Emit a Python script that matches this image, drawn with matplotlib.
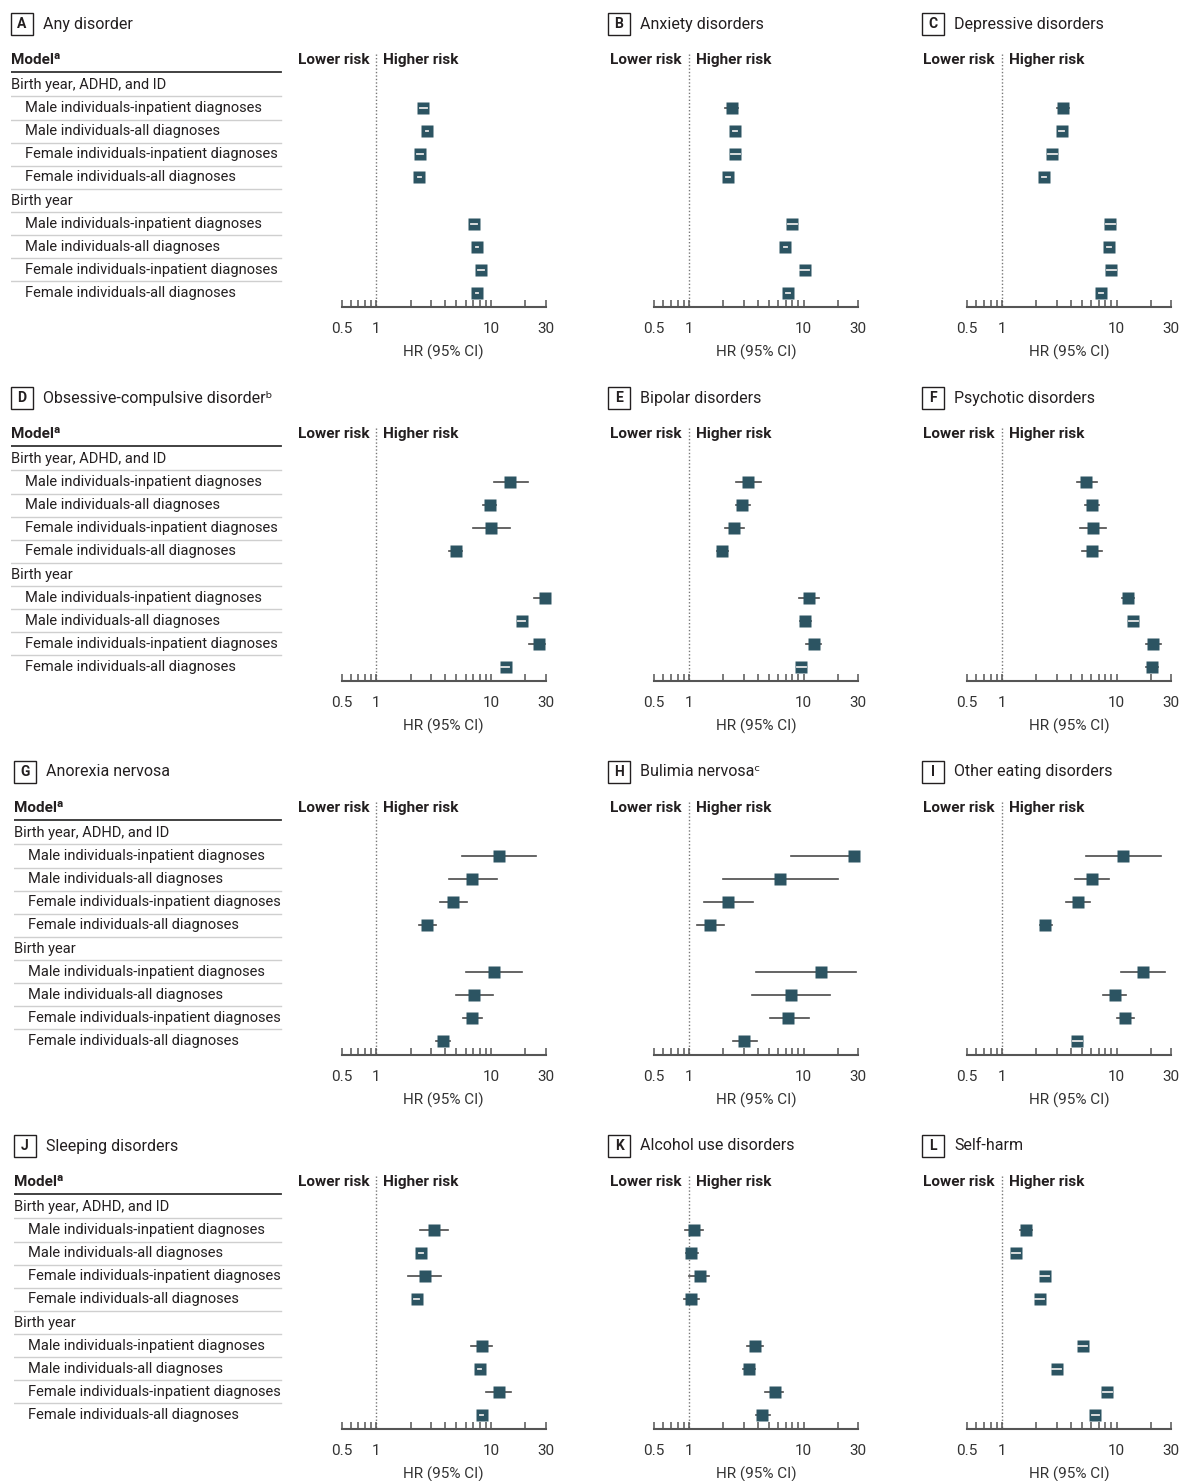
import matplotlib
matplotlib.use('Agg')
import matplotlib.pyplot as plt
from matplotlib.patches import Rectangle

plt.rcParams['font.family'] = ['Roboto', 'DejaVu Sans']

W, H = 1182, 1481

# panel headings, read row by row (3 panels per row)
letters = ['A', 'B', 'C', 'D', 'E', 'F', 'G', 'H', 'I', 'J', 'K', 'L']
titles = ['Any disorder', 'Anxiety disorders', 'Depressive disorders',
          'Obsessive-compulsive disorder\u1d47', 'Bipolar disorders', 'Psychotic disorders',
          'Anorexia nervosa', 'Bulimia nervosa\u1d9c', 'Other eating disorders',
          'Sleeping disorders', 'Alcohol use disorders', 'Self-harm']

row_labels = ['Birth year, ADHD, and ID',
              'Male individuals-inpatient diagnoses',
              'Male individuals-all diagnoses',
              'Female individuals-inpatient diagnoses',
              'Female individuals-all diagnoses',
              'Birth year',
              'Male individuals-inpatient diagnoses',
              'Male individuals-all diagnoses',
              'Female individuals-inpatient diagnoses',
              'Female individuals-all diagnoses']
group_rows = [0, 5]
est_rows = [1, 2, 3, 4, 6, 7, 8, 9]

# hazard ratios and 95% CI per panel
hr_a = [2.58, 2.79, 2.42, 2.38, 7.08, 7.62, 8.25, 7.62]
lo_a = [2.41, 2.73, 2.28, 2.31, 6.68, 7.47, 7.78, 7.47]
hi_a = [2.76, 2.85, 2.57, 2.45, 7.50, 7.77, 8.75, 7.77]

hr_b = [2.39, 2.54, 2.54, 2.21, 7.98, 6.94, 10.2, 7.37]
lo_b = [2.08, 2.44, 2.31, 2.12, 7.25, 6.70, 9.30, 7.10]
hi_b = [2.70, 2.65, 2.79, 2.30, 8.75, 7.20, 11.1, 7.65]

hr_c = [3.44, 3.33, 2.76, 2.35, 8.83, 8.65, 9.01, 7.37]
lo_c = [3.04, 3.17, 2.53, 2.26, 8.10, 8.30, 8.25, 7.07]
hi_c = [3.88, 3.50, 3.01, 2.44, 9.60, 9.00, 9.80, 7.68]

hr_d = [14.8, 9.73, 10.1, 4.95, 29.4, 18.5, 26.1, 13.4]
lo_d = [10.6, 8.51, 7.01, 4.27, 23.9, 17.2, 21.4, 12.2]
hi_d = [21.0, 11.1, 14.8, 5.62, 31.0, 19.9, 29.8, 14.5]

hr_e = [3.31, 2.92, 2.49, 1.95, 11.2, 10.3, 12.4, 9.55]
lo_e = [2.59, 2.59, 2.07, 1.77, 9.17, 9.30, 10.6, 8.75]
hi_e = [4.27, 3.38, 3.02, 2.20, 13.5, 11.7, 14.3, 10.4]

hr_f = [5.45, 6.14, 6.27, 6.14, 12.6, 14.0, 20.8, 20.4]
lo_f = [4.52, 5.31, 4.83, 5.03, 11.2, 12.8, 18.2, 18.2]
hi_f = [6.70, 7.07, 8.13, 7.41, 14.3, 15.3, 24.5, 23.2]

hr_g = [11.8, 6.89, 4.70, 2.77, 10.7, 7.17, 6.89, 3.82]
lo_g = [5.60, 4.29, 3.60, 2.35, 6.11, 4.93, 5.75, 3.34]
hi_g = [24.7, 11.2, 6.15, 3.30, 18.8, 10.4, 8.41, 4.43]

hr_h = [27.7, 6.22, 2.20, 1.53, 14.3, 7.80, 7.35, 3.02]
lo_h = [7.70, 1.99, 1.36, 1.17, 3.84, 3.52, 5.05, 2.45]
hi_h = [30.5, 19.8, 3.64, 2.01, 28.8, 16.9, 11.2, 3.89]

hr_i = [11.4, 6.14, 4.64, 2.40, 17.1, 9.73, 11.9, 4.55]
lo_i = [5.41, 4.37, 3.63, 2.14, 10.9, 7.66, 10.1, 4.15]
hi_i = [24.3, 8.58, 5.90, 2.72, 26.7, 12.2, 14.1, 5.00]

hr_j = [3.16, 2.48, 2.64, 2.25, 8.29, 7.97, 11.7, 8.29]
lo_j = [2.39, 2.38, 1.91, 2.15, 6.74, 7.70, 9.11, 8.01]
hi_j = [4.24, 2.58, 3.69, 2.35, 10.3, 8.25, 14.9, 8.58]

hr_k = [1.12, 1.04, 1.24, 1.05, 3.80, 3.32, 5.59, 4.37]
lo_k = [0.935, 0.95, 1.01, 0.908, 3.22, 2.99, 4.64, 3.85]
hi_k = [1.32, 1.19, 1.51, 1.23, 4.44, 3.78, 6.64, 5.11]

hr_l = [1.62, 1.33, 2.37, 2.13, 5.05, 3.00, 8.30, 6.55]
lo_l = [1.44, 1.22, 2.16, 1.95, 4.60, 2.76, 7.60, 6.05]
hi_l = [1.84, 1.45, 2.60, 2.33, 5.55, 3.26, 9.05, 7.10]

hrs = [hr_a, hr_b, hr_c, hr_d, hr_e, hr_f, hr_g, hr_h, hr_i, hr_j, hr_k, hr_l]
los = [lo_a, lo_b, lo_c, lo_d, lo_e, lo_f, lo_g, lo_h, lo_i, lo_j, lo_k, lo_l]
his = [hi_a, hi_b, hi_c, hi_d, hi_e, hi_f, hi_g, hi_h, hi_i, hi_j, hi_k, hi_l]

x_major = [0.5, 1, 10, 30]
x_major_labels = ['0.5', '1', '10', '30']
x_minor = [0.6, 0.7, 0.8, 0.9, 2, 3, 4, 5, 6, 7, 8, 9, 20]

TXT = '#231f20'
MARK = '#2c5462'
CI = '#4a4a4a'
FS = 10.5


def fig_rect(x0, y0, x1, y1):
    # pixel box (top-left origin) -> figure fraction
    return [x0 / W, 1 - y1 / H, (x1 - x0) / W, (y1 - y0) / H]


fig = plt.figure(figsize=(W / 100, H / 100), dpi=100)

col_x0 = [341.7, 654.3, 967.3]
box_x0 = [11, 608, 922]
ylim = (9.603, -1.724)
ROW_STEP = 374
inside = 1.115  # CI that fits inside the square marker is drawn in white

for p in range(12):
    r, c = divmod(p, 3)
    top = 45 + ROW_STEP * r
    bot = 307 + ROW_STEP * r

    # panel letter box and title
    bx = box_x0[c] + (3 if (c == 0 and r >= 2) else 0)
    by = 13 + ROW_STEP * r
    fig.add_artist(Rectangle((bx / W, 1 - (by + 22) / H), 22 / W, 22 / H,
                             transform=fig.transFigure, fill=False,
                             edgecolor=TXT, linewidth=1))
    fig.text((bx + 11) / W, 1 - (by + 11) / H, letters[p], ha='center', va='center',
             fontsize=10, fontweight='bold', color=TXT)
    fig.text((bx + 32) / W, 1 - (by + 11) / H, titles[p], ha='left', va='center',
             fontsize=11.5, color=TXT)

    # model table on the left column
    if c == 0:
        tx0 = bx
        tab = fig.add_axes(fig_rect(tx0, top, 283, bot))
        tab.set_xlim(0, 283 - tx0)
        tab.set_ylim(*ylim)
        tab.axis('off')
        tw = 283 - tx0 - 2
        tab.text(0, -1.078, 'Model\u1d43', fontsize=11, fontweight='bold',
                 color=TXT, va='center', ha='left')
        tab.plot([0, tw], [-0.54, -0.54], color='#333333', lw=1.3)
        for i, lab in enumerate(row_labels):
            indent = 0 if i in group_rows else 14
            tab.text(indent, i, lab, fontsize=FS, color=TXT, va='center', ha='left')
            if i < len(row_labels) - 1:
                tab.plot([0, tw], [i + 0.5, i + 0.5], color='#cfcfcf', lw=1)

    ax = fig.add_axes(fig_rect(col_x0[c], top, col_x0[c] + 204, bot))
    ax.set_xscale('log')
    ax.set_xlim(0.5, 30)
    ax.set_ylim(*ylim)
    for s in ['left', 'top', 'right']:
        ax.spines[s].set_visible(False)
    ax.spines['bottom'].set_color('#555555')
    ax.spines['bottom'].set_linewidth(1.5)
    ax.set_yticks([])
    ax.set_xticks(x_major)
    ax.set_xticklabels(x_major_labels)
    ax.set_xticks(x_minor, minor=True)
    ax.set_xticklabels([], minor=True)
    ax.tick_params(axis='x', which='both', direction='in', length=5, width=1.1,
                   color='#555555', labelsize=11, labelcolor='#333333', pad=11)
    ax.set_xlabel('HR (95% CI)', fontsize=11, color='#333333', labelpad=6)

    ax.plot([1, 1], [-1.35, ylim[0]], color='#777777', lw=1,
            linestyle=(0, (1, 1.5)), zorder=1)
    ax.annotate('Lower risk', xy=(1, -1.078), xytext=(-5, 0), textcoords='offset points',
                ha='right', va='center', fontsize=11, fontweight='bold', color=TXT)
    ax.annotate('Higher risk', xy=(1, -1.078), xytext=(5, 0), textcoords='offset points',
                ha='left', va='center', fontsize=11, fontweight='bold', color=TXT)

    for y, hr, lo, hi in zip(est_rows, hrs[p], los[p], his[p]):
        small = hi / hr < inside and hr / lo < inside
        if not small:
            ax.plot([lo, hi], [y, y], color=CI, lw=1.2, zorder=2)
        ax.plot([hr], [y], marker='s', ms=8, color=MARK, mec='none',
                zorder=3, clip_on=False)
        if small:
            ax.plot([lo, hi], [y, y], color='#e8e8e8', lw=1.3, zorder=4)

fig.savefig('out.png', dpi=100)
